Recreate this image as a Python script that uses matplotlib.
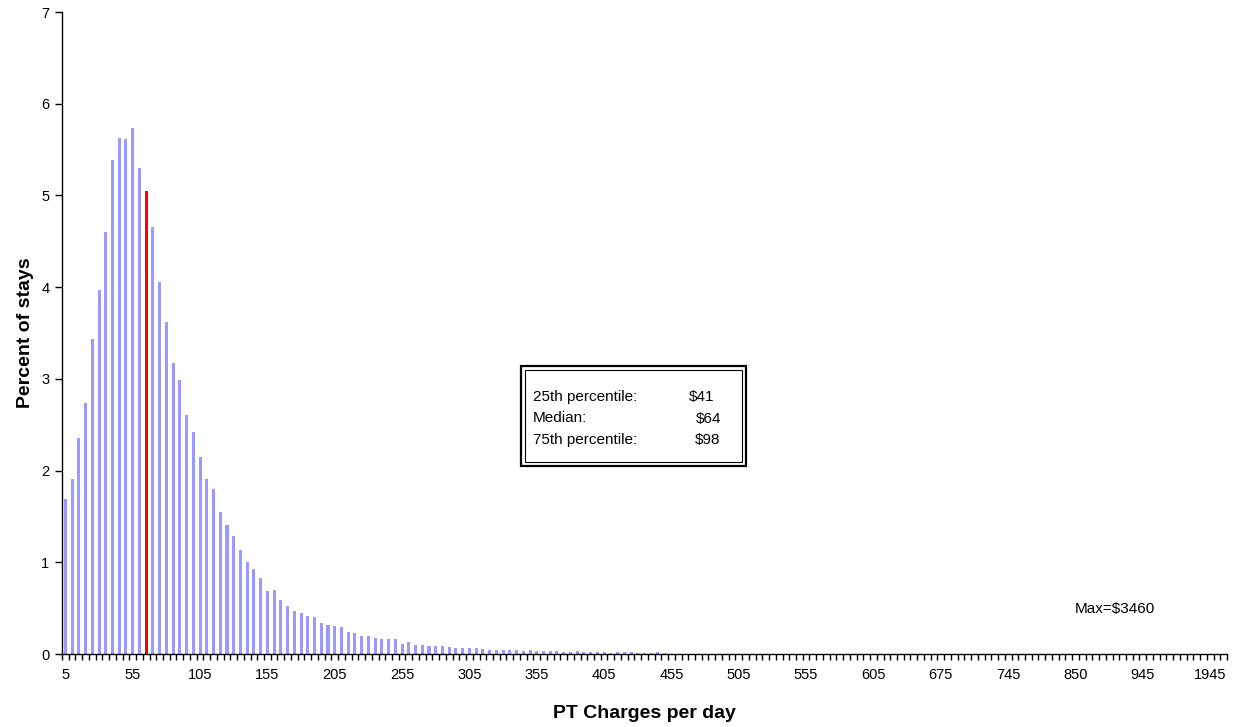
import matplotlib
matplotlib.use("Agg")
import matplotlib.pyplot as plt
from matplotlib.patches import Rectangle
import numpy as np

plt.rcParams['font.family'] = ['Liberation Sans', 'DejaVu Sans']

# === categories (PT charges per day, $) ===
charges = list(range(5, 606, 5)) + [
    610, 615, 620, 625, 635, 640, 650, 655, 665, 675,
    680, 685, 690, 700, 705, 715, 720, 730, 740, 745,
    750, 760, 770, 780, 790, 800, 810, 825, 840, 850,
    860, 870, 880, 890, 900, 910, 920, 930, 940, 945,
    960, 980, 1000, 1050, 1100, 1200, 1300, 1500, 1700, 1945,
    2400, 3460,
]

# === percent of stays ===
pct_head = [1.69, 1.91, 2.36, 2.74, 3.44, 3.97, 4.60, 5.39, 5.63, 5.62,
            5.74, 5.30, 5.05, 4.66, 4.06, 3.62, 3.17, 2.99, 2.61, 2.42,
            2.15, 1.91, 1.80, 1.55, 1.41, 1.29, 1.13, 1.00, 0.93, 0.83]
pct_mid = [0.69, 0.70, 0.59, 0.52, 0.47, 0.45, 0.41, 0.40, 0.34, 0.32,
           0.31, 0.29, 0.24, 0.23, 0.20, 0.20, 0.17, 0.16, 0.16, 0.16,
           0.11, 0.13, 0.10, 0.10, 0.09, 0.09, 0.09, 0.08, 0.07, 0.07,
           0.06, 0.06, 0.05, 0.04, 0.04, 0.04, 0.04, 0.04, 0.03, 0.04,
           0.03, 0.03, 0.03, 0.03, 0.02, 0.02, 0.03, 0.02, 0.02, 0.02,
           0.02, 0.01, 0.02, 0.02, 0.02, 0.01, 0.01, 0.01, 0.02, 0.01]
pct_tail = [0.004, 0.004, 0.004, 0.003, 0.003, 0.003, 0.003, 0.003, 0.003, 0.003,
            0.003, 0.003, 0.002, 0.002, 0.002, 0.002, 0.002, 0.002, 0.002, 0.002,
            0.002, 0.002, 0.002, 0.002, 0.002, 0.001, 0.001, 0.001, 0.001, 0.001,
            0.001, 0.001, 0.001, 0.001, 0.001, 0.001, 0.001, 0.001, 0.001, 0.001,
            0.001, 0.001, 0.001, 0.001, 0.001, 0.001, 0.001, 0.001, 0.001, 0.001,
            0.001, 0.001, 0.001, 0.001, 0.001, 0.001, 0.001, 0.001, 0.001, 0.001,
            0.001, 0.001, 0.001, 0.001, 0.001, 0.001, 0.001, 0.001, 0.001, 0.001,
            0.001, 0.001, 0.001, 0.001, 0.001, 0.001, 0.001, 0.001, 0.001, 0.001,
            0.001, 0.001, 0.001]
percent = pct_head + pct_mid + pct_tail

median_bin = 65
stats_labels = ["25th percentile:", "Median:", "75th percentile:"]
stats_values = ["$41", "$64", "$98"]
max_label = "Max=$3460"

W, H = 1241, 727
fig = plt.figure(figsize=(W / 100, H / 100), dpi=100)
ax = fig.add_axes([62 / W, 1 - 654 / H, (1227 - 62) / W, (654 - 12) / H])

x = np.arange(len(charges))
colors = ['#FF0000' if c == median_bin else '#9999FF' for c in charges]
ax.bar(x, percent, width=0.45, color=colors, linewidth=0)

ax.set_xlim(-0.5, len(charges) - 0.5)
ax.set_ylim(0, 7)
ax.set_yticks(range(0, 8))
ax.tick_params(axis='y', direction='out', length=5, width=1, labelsize=10.5, pad=4)

# labels every 10th category, tick marks at every category boundary
ax.set_xticks(x[::10])
ax.set_xticklabels([str(charges[i]) for i in x[::10]])
ax.set_xticks(np.arange(len(charges) + 1) - 0.5, minor=True)
ax.tick_params(axis='x', which='major', length=0, labelsize=10.5, pad=10)
ax.tick_params(axis='x', which='minor', direction='out', length=4, width=1)

for s in ['top', 'right']:
    ax.spines[s].set_visible(False)
for s in ['left', 'bottom']:
    ax.spines[s].set_linewidth(1.0)

ax.set_xlabel("PT Charges per day", fontsize=14, fontweight='bold', labelpad=17)
ax.set_ylabel("Percent of stays", fontsize=14, fontweight='bold', labelpad=5)


def fx(px):
    return px / W


def fy(py):
    return 1 - py / H


# double-bordered stats box
fig.patches.append(Rectangle((fx(521), fy(466)), fx(746) - fx(521), fy(366) - fy(466),
                             transform=fig.transFigure, fill=False, edgecolor='black', linewidth=1.6))
fig.patches.append(Rectangle((fx(525), fy(462)), fx(742) - fx(525), fy(370) - fy(462),
                             transform=fig.transFigure, fill=False, edgecolor='black', linewidth=0.8))

val_x = [689, 696, 695]
line_y = [397, 418.5, 440]
for lab, val, vx, ly in zip(stats_labels, stats_values, val_x, line_y):
    fig.text(fx(533), fy(ly), lab, fontsize=11, va='center', ha='left')
    fig.text(fx(vx), fy(ly), val, fontsize=11, va='center', ha='left')

fig.text(fx(1075), fy(609), max_label, fontsize=11, va='center', ha='left')

fig.savefig("out.png", dpi=100)
